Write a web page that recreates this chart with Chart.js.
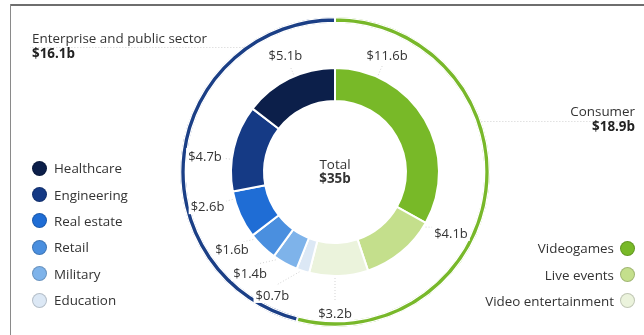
<!DOCTYPE html>
<html lang="en">
<head>
<meta charset="UTF-8" />
<title>Revenue split</title>
<style>
  * {margin:0; padding:0; box-sizing:border-box;}
  body {background:#fff; width:644px; height:335px; overflow:hidden; font-family:'Open Sans', sans-serif; color:#333;}
  .wrap {position:relative; width:644px; height:335px;}
  canvas {position:absolute; left:0; top:0;}
  .frame-top {position:absolute; left:10px; right:0; top:4px; height:2px; background:#6e6e6e;}
  .frame-left {position:absolute; left:10px; top:4px; bottom:0; width:1px; background:#8a8a8a;}
  .title {position:absolute; font-size:13.4px; line-height:15px;}
  .title b {font-weight:700; color:#222;}
  #titleLeft {left:32px; top:31px;}
  #titleRight {right:9px; top:104px; text-align:right;}
  #center {position:absolute; left:285px; width:100px; top:157px; text-align:center; font-size:13.4px; line-height:14px;}
  .legend {position:absolute; font-size:13.4px; list-style:none;}
  .legend li {height:26.4px; display:flex; align-items:center;}
  .legend .dot {width:15px; height:15px; border-radius:50%; border:1.5px solid rgba(0,0,0,0.18); flex:none;}
  #legendLeft {left:32px; top:155px;}
  #legendLeft .dot {margin-right:7px;}
  #legendRight {right:9px; top:235px;}
  #legendRight li {justify-content:flex-end;}
  #legendRight .dot {margin-left:6px;}
</style>
</head>
<body>
<div class="wrap">
  <canvas id="chart" width="644" height="335"></canvas>
  <div class="frame-top"></div>
  <div class="frame-left"></div>
  <div class="title" id="titleLeft"></div>
  <div class="title" id="titleRight"></div>
  <div id="center"></div>
  <ul class="legend" id="legendLeft"></ul>
  <ul class="legend" id="legendRight"></ul>
</div>

<script src="https://cdn.jsdelivr.net/npm/chart.js"></script>
<script>
  // data, clockwise from 12 o'clock
  const segments = ['Videogames', 'Live events', 'Video entertainment', 'Education', 'Military', 'Retail', 'Real estate', 'Engineering', 'Healthcare'];
  const segmentValues = [11.6, 4.1, 3.2, 0.7, 1.4, 1.6, 2.6, 4.7, 5.1];
  const groups = ['Consumer', 'Enterprise and public sector'];
  const groupValues = [18.9, 16.1];
  const totalValue = 35;

  const segmentColors = ['#78b928', '#c4df8c', '#ebf3dc', '#dce8f5', '#7eb3ea', '#4a8fdf', '#1f6dd5', '#153a85', '#0c1f4a'];
  const groupColors = ['#78b82a', '#1b3f86'];

  // where the value labels sit: angle (deg, clockwise from top) and distance past the ring
  const labelAngle = [24, 117.7, 180, 207, 220, 233, 255, 277, 337];
  const labelGap = [24, 27, 37, 34, 28, 25, 28, 27, 23];

  const fmt = v => '$' + v + 'b';

  // html text
  document.getElementById('titleLeft').innerHTML = groups[1] + '<br><b>' + fmt(groupValues[1]) + '</b>';
  document.getElementById('titleRight').innerHTML = groups[0] + '<br><b>' + fmt(groupValues[0]) + '</b>';
  document.getElementById('center').innerHTML = 'Total<br><b>' + fmt(totalValue) + '</b>';

  const leftIdx = [8, 7, 6, 5, 4, 3];
  const rightIdx = [0, 1, 2];
  document.getElementById('legendLeft').innerHTML = leftIdx.map(i =>
    '<li><span class="dot" style="background:' + segmentColors[i] + '"></span>' + segments[i] + '</li>').join('');
  document.getElementById('legendRight').innerHTML = rightIdx.map(i =>
    '<li>' + segments[i] + '<span class="dot" style="background:' + segmentColors[i] + '"></span></li>').join('');

  const toXY = (cx, cy, r, deg) => {
    const a = deg * Math.PI / 180 - Math.PI / 2;
    return [cx + r * Math.cos(a), cy + r * Math.sin(a)];
  };

  const valueLabels = {
    id: 'valueLabels',
    afterDatasetsDraw(chart) {
      const ctx = chart.ctx;
      const arcs = chart.getDatasetMeta(2).data;
      const outer = chart.getDatasetMeta(0).data;
      ctx.save();
      ctx.strokeStyle = '#d2d2d2';
      ctx.lineWidth = 1;
      ctx.setLineDash([1, 2]);

      // title leaders to the outer ring
      const ring = outer[0];
      const R = ring.outerRadius;
      [[47, -1, 30], [121, 1, 634]].forEach(([y, side, endX]) => {
        const dx = Math.sqrt(R * R - (y - ring.y) * (y - ring.y));
        ctx.beginPath();
        ctx.moveTo(ring.x + side * dx, y + 0.5);
        ctx.lineTo(endX, y + 0.5);
        ctx.stroke();
      });

      arcs.forEach((arc, i) => {
        const start = (arc.startAngle + Math.PI / 2) * 180 / Math.PI;
        const end = (arc.endAngle + Math.PI / 2) * 180 / Math.PI;
        const anchor = Math.min(Math.max(labelAngle[i], start + 2), end - 2);
        const r = arc.outerRadius + labelGap[i];
        const [ax, ay] = toXY(arc.x, arc.y, arc.outerRadius + 2, anchor);
        const [bx, by] = toXY(arc.x, arc.y, r - 12, labelAngle[i]);
        ctx.beginPath();
        ctx.moveTo(ax, ay);
        ctx.lineTo(bx, by);
        ctx.stroke();
      });

      ctx.setLineDash([]);
      ctx.font = '13px "Open Sans", sans-serif';
      ctx.textAlign = 'center';
      ctx.textBaseline = 'middle';
      arcs.forEach((arc, i) => {
        const [x, y] = toXY(arc.x, arc.y, arc.outerRadius + labelGap[i], labelAngle[i]);
        ctx.fillStyle = '#fff';
        const w = ctx.measureText(fmt(segmentValues[i])).width;
        ctx.fillRect(x - w / 2 - 2, y - 8, w + 4, 16);
        ctx.fillStyle = '#333';
        ctx.fillText(fmt(segmentValues[i]), x, y + 1);
      });
      ctx.restore();
    }
  };

  new Chart(document.getElementById('chart'), {
    type: 'doughnut',
    data: {
      labels: segments,
      datasets: [
        {data: groupValues, backgroundColor: groupColors, borderColor: '#fff', borderWidth: 1, borderAlign: 'inner', weight: 6},
        {data: [1], backgroundColor: 'rgba(0,0,0,0)', borderWidth: 0, weight: 45},
        {data: segmentValues, backgroundColor: segmentColors, borderColor: '#fff', borderWidth: 2, weight: 33}
      ]
    },
    options: {
      responsive: false,
      animation: false,
      cutout: '45.8%',
      hoverOffset: 0,
      layout: {padding: {top: 17, bottom: 8, left: 26, right: 0}},
      plugins: {legend: {display: false}, tooltip: {enabled: false}}
    },
    plugins: [valueLabels]
  });
</script>
</body>
</html>
